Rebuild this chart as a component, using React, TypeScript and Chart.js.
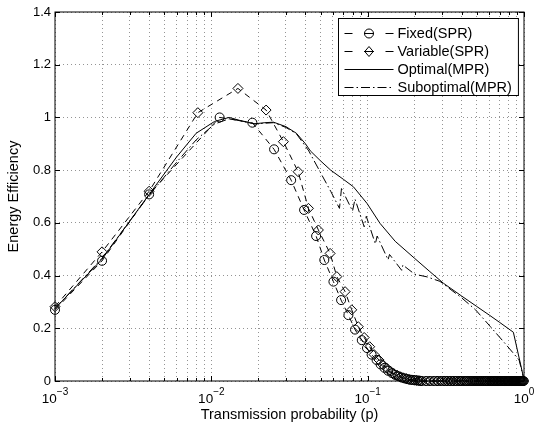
import React, { useEffect, useRef } from 'react';
import { Chart, registerables } from 'chart.js';

Chart.register(...registerables);

// ---------- data ----------
const FIXED_P = [0.001, 0.002, 0.004, 0.0113, 0.0183, 0.0252, 0.0324, 0.0392, 0.0468, 0.0528, 0.0604, 0.0676, 0.0753, 0.083, 0.0917, 0.099, 0.106, 0.114, 0.121, 0.128, 0.135, 0.143, 0.15, 0.157, 0.165, 0.172, 0.179, 0.187, 0.194, 0.201, 0.208, 0.216];
const FIXED_E = [0.27, 0.456, 0.708, 1.0, 0.98, 0.879, 0.762, 0.649, 0.55, 0.459, 0.377, 0.307, 0.25, 0.195, 0.155, 0.125, 0.1, 0.08, 0.063, 0.05, 0.039, 0.03, 0.023, 0.018, 0.013, 0.01, 0.007, 0.005, 0.004, 0.003, 0.002, 0.001];
const FIXED_TAIL_P = [0.223, 0.238, 0.252, 0.267, 0.282, 0.296, 0.311, 0.325, 0.34, 0.355, 0.369, 0.384, 0.398, 0.413, 0.427, 0.442, 0.457, 0.471, 0.486, 0.5, 0.515, 0.53, 0.544, 0.559, 0.573, 0.588, 0.603, 0.617, 0.632, 0.646, 0.661, 0.676, 0.69, 0.705, 0.719, 0.734, 0.748, 0.763, 0.778, 0.792, 0.807, 0.821, 0.836, 0.851, 0.865, 0.88, 0.894, 0.909, 0.924, 0.938, 0.953, 0.967, 0.982, 0.996];
const FIXED_TAIL_E = [0, 0, 0, 0, 0, 0, 0, 0, 0, 0, 0, 0, 0, 0, 0, 0, 0, 0, 0, 0, 0, 0, 0, 0, 0, 0, 0, 0, 0, 0, 0, 0, 0, 0, 0, 0, 0, 0, 0, 0, 0, 0, 0, 0, 0, 0, 0, 0, 0, 0, 0, 0, 0, 0];

const VAR_P = [0.001, 0.002, 0.004, 0.0082, 0.0148, 0.0224, 0.0289, 0.0359, 0.0418, 0.0484, 0.0575, 0.0635, 0.0717, 0.0791, 0.0871, 0.095, 0.103, 0.11, 0.118, 0.125, 0.133, 0.14, 0.147, 0.155, 0.162, 0.169, 0.177, 0.184, 0.191, 0.199, 0.206, 0.213];
const VAR_E = [0.282, 0.49, 0.72, 1.018, 1.11, 1.028, 0.908, 0.794, 0.655, 0.573, 0.484, 0.396, 0.339, 0.27, 0.206, 0.165, 0.13, 0.1, 0.08, 0.062, 0.048, 0.037, 0.028, 0.021, 0.016, 0.012, 0.009, 0.006, 0.004, 0.003, 0.002, 0.001];
const VAR_TAIL_P = [0.22, 0.235, 0.249, 0.264, 0.278, 0.293, 0.308, 0.322, 0.337, 0.351, 0.366, 0.381, 0.395, 0.41, 0.424, 0.439, 0.454, 0.468, 0.483, 0.497, 0.512, 0.527, 0.541, 0.556, 0.57, 0.585, 0.6, 0.614, 0.629, 0.643, 0.658, 0.673, 0.687, 0.702, 0.716, 0.731, 0.746, 0.76, 0.775, 0.789, 0.804, 0.819, 0.833, 0.848, 0.862, 0.877, 0.892, 0.906, 0.921, 0.935, 0.95, 0.965, 0.979, 0.994];
const VAR_TAIL_E = [0, 0, 0, 0, 0, 0, 0, 0, 0, 0, 0, 0, 0, 0, 0, 0, 0, 0, 0, 0, 0, 0, 0, 0, 0, 0, 0, 0, 0, 0, 0, 0, 0, 0, 0, 0, 0, 0, 0, 0, 0, 0, 0, 0, 0, 0, 0, 0, 0, 0, 0, 0, 0, 0];

const OPT_P = [0.001, 0.002, 0.004, 0.006, 0.008, 0.0105, 0.013, 0.016, 0.019, 0.022, 0.025, 0.03, 0.035, 0.04, 0.043, 0.05, 0.058, 0.07, 0.081, 0.099, 0.12, 0.15, 0.2, 0.25, 0.305, 0.4, 0.498, 0.6, 0.7, 0.855, 1.0];
const OPT_E = [0.275, 0.462, 0.708, 0.85, 0.94, 0.985, 1.0, 0.985, 0.976, 0.98, 0.982, 0.965, 0.94, 0.9, 0.873, 0.835, 0.8, 0.765, 0.737, 0.674, 0.598, 0.53, 0.465, 0.415, 0.371, 0.322, 0.283, 0.25, 0.222, 0.185, 0.005];

const SUB_P = [0.001, 0.002, 0.004, 0.006, 0.008, 0.0105, 0.013, 0.016, 0.019, 0.022, 0.025, 0.03, 0.035, 0.042, 0.05, 0.058, 0.066, 0.068, 0.08, 0.083, 0.095, 0.098, 0.112, 0.115, 0.135, 0.138, 0.165, 0.168, 0.2, 0.24, 0.29, 0.4, 0.49, 0.61, 0.74, 0.93, 1.0];
const SUB_E = [0.275, 0.466, 0.705, 0.83, 0.915, 0.975, 0.995, 0.985, 0.975, 0.978, 0.98, 0.962, 0.938, 0.873, 0.79, 0.72, 0.655, 0.73, 0.645, 0.69, 0.585, 0.625, 0.52, 0.55, 0.46, 0.48, 0.42, 0.44, 0.405, 0.395, 0.378, 0.315, 0.27, 0.206, 0.149, 0.08, 0.005];

const X_GRID = [0.001, 0.002, 0.003, 0.004, 0.005, 0.006, 0.007, 0.008, 0.009, 0.01, 0.02, 0.03, 0.04, 0.05, 0.06, 0.07, 0.08, 0.09, 0.1, 0.2, 0.3, 0.4, 0.5, 0.6, 0.7, 0.8, 0.9, 1];
const X_MAJOR = [0.001, 0.01, 0.1, 1];
const X_EXP = ['\u22123', '\u22122', '\u22121', '0'];
const Y_TICKS = [0, 0.2, 0.4, 0.6, 0.8, 1, 1.2, 1.4];
const LEGEND_LABELS = ['Fixed(SPR)', 'Variable(SPR)', 'Optimal(MPR)', 'Suboptimal(MPR)'];

const FONT = "'Liberation Sans', Arial, Helvetica, sans-serif";
const DASH = [6, 5];
const DASH_DOT = [9, 3, 1.5, 3];
const GRID_COLOR = 'rgba(0,0,0,0.42)';

const pts = (xs: number[], ys: number[]) => xs.map((x, i) => ({ x, y: ys[i] }));

function drawDiamond(ctx: CanvasRenderingContext2D, x: number, y: number, r: number) {
  ctx.beginPath();
  ctx.moveTo(x - r * 0.85, y);
  ctx.lineTo(x, y - r);
  ctx.lineTo(x + r * 0.85, y);
  ctx.lineTo(x, y + r);
  ctx.closePath();
  ctx.stroke();
}

const matlabPlugin = {
  id: 'matlabAxes',
  afterDatasetsDraw(chart: any) {
    const { ctx, chartArea, scales } = chart;
    const { left, right, top, bottom } = chartArea;
    const xs = scales.x;
    const ys = scales.y;
    ctx.save();
    ctx.strokeStyle = '#000';
    ctx.lineWidth = 1;
    ctx.setLineDash([]);
    ctx.beginPath();
    X_GRID.forEach((v) => {
      const x = Math.round(xs.getPixelForValue(v)) + 0.5;
      const len = X_MAJOR.includes(v) ? 5 : 3;
      ctx.moveTo(x, bottom);
      ctx.lineTo(x, bottom - len);
      ctx.moveTo(x, top);
      ctx.lineTo(x, top + len);
    });
    Y_TICKS.forEach((v) => {
      const y = Math.round(ys.getPixelForValue(v)) + 0.5;
      ctx.moveTo(left, y);
      ctx.lineTo(left + 5, y);
      ctx.moveTo(right, y);
      ctx.lineTo(right - 5, y);
    });
    ctx.stroke();
    ctx.strokeRect(left, top, right - left, bottom - top);
    ctx.fillStyle = '#000';
    ctx.textAlign = 'left';
    ctx.textBaseline = 'alphabetic';
    X_MAJOR.forEach((v, i) => {
      const x = xs.getPixelForValue(v);
      ctx.font = `13.5px ${FONT}`;
      const wb = ctx.measureText('10').width;
      ctx.font = `10px ${FONT}`;
      const we = ctx.measureText(X_EXP[i]).width;
      const start = x - (wb + we) / 2;
      ctx.font = `13.5px ${FONT}`;
      ctx.fillText('10', start, bottom + 22);
      ctx.font = `10px ${FONT}`;
      ctx.fillText(X_EXP[i], start + wb, bottom + 14);
    });
    ctx.restore();
  },
  afterDraw(chart: any) {
    const { ctx, chartArea } = chart;
    ctx.save();
    ctx.font = `14.5px ${FONT}`;
    const textW = Math.max(...LEGEND_LABELS.map((t) => ctx.measureText(t).width));
    const lineLen = 49;
    const padL = 6;
    const gap = 4;
    const padR = 6.5;
    const rowH = 18.2;
    const w = padL + lineLen + gap + textW + padR;
    const h = 77;
    const x0 = Math.round(chartArea.right - 6 - w) + 0.5;
    const y0 = chartArea.top + 6.5;
    ctx.fillStyle = '#fff';
    ctx.fillRect(x0, y0, w, h);
    ctx.strokeStyle = '#000';
    ctx.lineWidth = 1;
    ctx.setLineDash([]);
    ctx.strokeRect(x0, y0, w, h);
    const a = x0 + padL;
    const b = a + lineLen;
    const c = (a + b) / 2;
    LEGEND_LABELS.forEach((label, i) => {
      const y = Math.round(y0 + 14 + i * rowH) + 0.5;
      ctx.strokeStyle = '#000';
      ctx.lineWidth = 1;
      ctx.setLineDash([]);
      if (i < 2) {
        ctx.beginPath();
        ctx.moveTo(a, y); ctx.lineTo(a + 8, y);
        ctx.moveTo(c - 5, y); ctx.lineTo(c + 5, y);
        ctx.moveTo(b - 8, y); ctx.lineTo(b, y);
        ctx.stroke();
        if (i === 0) {
          ctx.beginPath();
          ctx.arc(c, y, 4.5, 0, Math.PI * 2);
          ctx.stroke();
        } else {
          drawDiamond(ctx, c, y, 5);
        }
      } else {
        ctx.setLineDash(i === 3 ? DASH_DOT : []);
        ctx.beginPath();
        ctx.moveTo(a, y); ctx.lineTo(b, y);
        ctx.stroke();
        ctx.setLineDash([]);
      }
      ctx.fillStyle = '#000';
      ctx.font = `14.5px ${FONT}`;
      ctx.textAlign = 'left';
      ctx.textBaseline = 'middle';
      ctx.fillText(label, b + gap, y);
    });
    ctx.restore();
  },
};

export default function App() {
  const ref = useRef<HTMLCanvasElement>(null);
  useEffect(() => {
    const canvas = ref.current;
    if (!canvas) return;
    const common = {
      borderColor: '#000',
      borderWidth: 1,
      tension: 0,
      fill: false,
      clip: false as any,
      pointBorderColor: '#000',
      pointBackgroundColor: 'rgba(0,0,0,0)',
      pointBorderWidth: 1,
      pointHoverRadius: 0,
    };
    const chart = new Chart(canvas, {
      type: 'line',
      data: {
        datasets: [
          {
            ...common,
            label: LEGEND_LABELS[0],
            data: [...pts(FIXED_P, FIXED_E), ...pts(FIXED_TAIL_P, FIXED_TAIL_E)],
            borderDash: DASH,
            pointStyle: 'circle',
            pointRadius: 4.5,
          },
          {
            ...common,
            label: LEGEND_LABELS[1],
            data: [...pts(VAR_P, VAR_E), ...pts(VAR_TAIL_P, VAR_TAIL_E)],
            borderDash: DASH,
            pointStyle: 'rectRot',
            pointRadius: 5,
          },
          {
            ...common,
            label: LEGEND_LABELS[2],
            data: pts(OPT_P, OPT_E),
            pointRadius: 0,
          },
          {
            ...common,
            label: LEGEND_LABELS[3],
            data: pts(SUB_P, SUB_E),
            borderDash: DASH_DOT,
            pointRadius: 0,
          },
        ],
      },
      options: {
        animation: false,
        responsive: false,
        devicePixelRatio: 1,
        events: [],
        layout: { padding: { left: 0, right: 10, top: 12, bottom: 0 } },
        plugins: { legend: { display: false }, title: { display: false }, tooltip: { enabled: false } },
        scales: {
          x: {
            type: 'logarithmic',
            min: 0.001,
            max: 1,
            afterBuildTicks: (s: any) => {
              s.ticks = X_GRID.map((v) => ({ value: v, major: X_MAJOR.includes(v) }));
            },
            afterFit: (s: any) => {
              s.height = 47;
            },
            ticks: { display: false },
            grid: { color: GRID_COLOR, lineWidth: 1, drawTicks: false },
            border: { display: false, dash: [1, 3] },
            title: {
              display: true,
              text: 'Transmission probability (p)',
              color: '#000',
              font: { family: FONT, size: 14.5 },
              padding: { top: 0, bottom: 4 },
            },
          },
          y: {
            type: 'linear',
            min: 0,
            max: 1.4,
            afterBuildTicks: (s: any) => {
              s.ticks = Y_TICKS.map((v) => ({ value: v }));
            },
            afterFit: (s: any) => {
              s.width = 55;
            },
            ticks: {
              color: '#000',
              font: { family: FONT, size: 13 },
              padding: 4,
              callback: (v: any) => String(Math.round(Number(v) * 10) / 10),
            },
            grid: { color: GRID_COLOR, lineWidth: 1, drawTicks: false },
            border: { display: false, dash: [1, 3] },
            title: {
              display: true,
              text: 'Energy Efficiency',
              color: '#000',
              font: { family: FONT, size: 14.5 },
              padding: { top: 5, bottom: 0 },
            },
          },
        },
      } as any,
      plugins: [matlabPlugin],
    });
    return () => chart.destroy();
  }, []);
  return (
    <div style={{ position: 'absolute', left: 0, top: 0, width: 534, height: 428, background: '#fff' }}>
      <canvas ref={ref} width={534} height={428} style={{ display: 'block', width: 534, height: 428 }} />
    </div>
  );
}
